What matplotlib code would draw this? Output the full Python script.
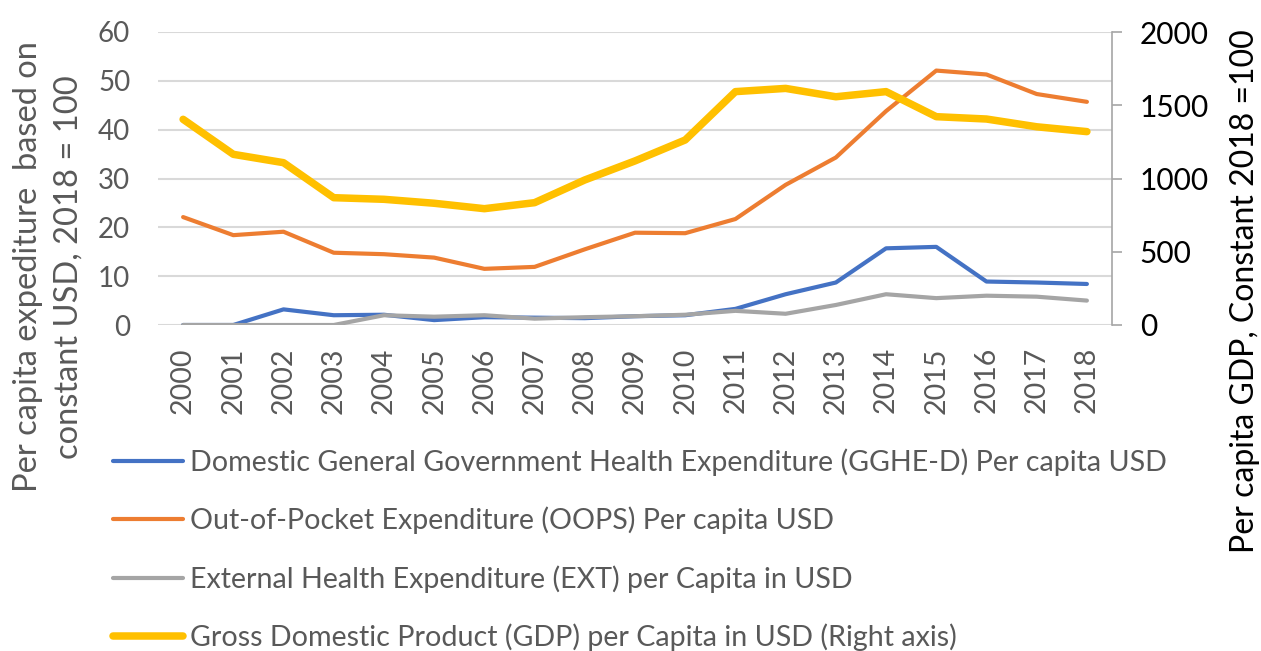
import numpy as np
import matplotlib.pyplot as plt
from matplotlib.lines import Line2D

plt.rcParams['font.family'] = ['Lato', 'DejaVu Sans']

# ----
# data
# ----
years = [str(y) for y in range(2000, 2019)]
gghe_d = [0, 0, 3.2, 2.0, 2.1, 1.0, 1.6, 1.5, 1.4, 1.8, 2.0, 3.3, 6.3, 8.7, 15.7, 16.0, 8.9, 8.7, 8.4]
oops = [22.1, 18.4, 19.1, 14.8, 14.5, 13.8, 11.5, 11.9, 15.5, 18.9, 18.8, 21.7, 28.7, 34.3, 43.8, 52.1, 51.3, 47.3, 45.7]
ext = [0, 0, 0, 0, 2.0, 1.7, 2.0, 1.3, 1.6, 1.8, 2.1, 2.9, 2.3, 4.1, 6.3, 5.5, 6.0, 5.8, 5.0]
gdp = [1404, 1165, 1108, 869, 858, 831, 794, 835, 990, 1120, 1263, 1593, 1615, 1558, 1593, 1422, 1406, 1353, 1320]

labels = [
    "Domestic General Government Health Expenditure (GGHE-D) Per capita USD",
    "Out-of-Pocket Expenditure (OOPS) Per capita USD",
    "External Health Expenditure (EXT) per Capita in USD",
    "Gross Domestic Product (GDP) per Capita in USD (Right axis)",
]
colors = ["#4472C4", "#ED7D31", "#A5A5A5", "#FFC000"]
widths = [3, 3, 3, 5.4]

grey_txt = "#595959"

# ----
# plot
# ----
W, H = 1261, 651
fig = plt.figure(figsize=(W / 100, H / 100), dpi=100)
ax = fig.add_axes([158 / W, 1 - 325 / H, (1112 - 158) / W, (325 - 32) / H])
ax2 = ax.twinx()

x = np.arange(len(years))
for vals, c, lw in zip([gghe_d, oops, ext], colors[:3], widths[:3]):
    ax.plot(x, vals, color=c, lw=lw, solid_capstyle='round', solid_joinstyle='round', zorder=3)
ax2.plot(x, gdp, color=colors[3], lw=widths[3], solid_capstyle='round', solid_joinstyle='round', zorder=3)

ax.set_xlim(-0.5, len(years) - 0.5)
ax.set_ylim(0, 60)
ax.set_yticks(np.arange(0, 61, 10))
ax2.set_ylim(0, 2000)
ax2.set_yticks(np.arange(0, 2001, 500))

ax.set_xticks(x)
ax.set_xticklabels(years, rotation=90)
ax.grid(axis='y', color='#D9D9D9', lw=1.5, zorder=0)
ax.set_axisbelow(True)

for s in ['top', 'left', 'bottom', 'right']:
    ax.spines[s].set_visible(False)
for s in ['top', 'left', 'bottom']:
    ax2.spines[s].set_visible(False)
ax2.spines['right'].set_color('#A6A6A6')
ax2.spines['right'].set_linewidth(1.2)

ax.tick_params(axis='y', length=0, pad=20, labelsize=20, labelcolor=grey_txt)
ax.tick_params(axis='x', length=0, pad=16, labelsize=20.5, labelcolor=grey_txt)
ax2.tick_params(axis='y', length=7, width=1.2, color='#A6A6A6', pad=13, labelsize=21.5, labelcolor='black')

fig.text(48 / W, 1 - 267 / H, "Per capita expediture  based on\nconstant USD, 2018 = 100",
         rotation=90, ha='center', va='center', fontsize=23.5, color=grey_txt,
         linespacing=1.45, multialignment='center')
fig.text(1245 / W, 1 - 291 / H, "Per capita GDP, Constant 2018 =100",
         rotation=90, ha='center', va='center', fontsize=23, color='black')

handles = [Line2D([0], [0], color=c, lw=lw, solid_capstyle='round') for c, lw in zip(colors, widths)]
leg = fig.legend(handles, labels, loc='upper left', bbox_to_anchor=(113 / W, 1 - 448 / H),
                 frameon=False, fontsize=20.6, handlelength=2.45, handletextpad=0.25,
                 labelspacing=1.08, borderpad=0, borderaxespad=0)
for t in leg.get_texts():
    t.set_color(grey_txt)

fig.savefig("out.png", dpi=100)
